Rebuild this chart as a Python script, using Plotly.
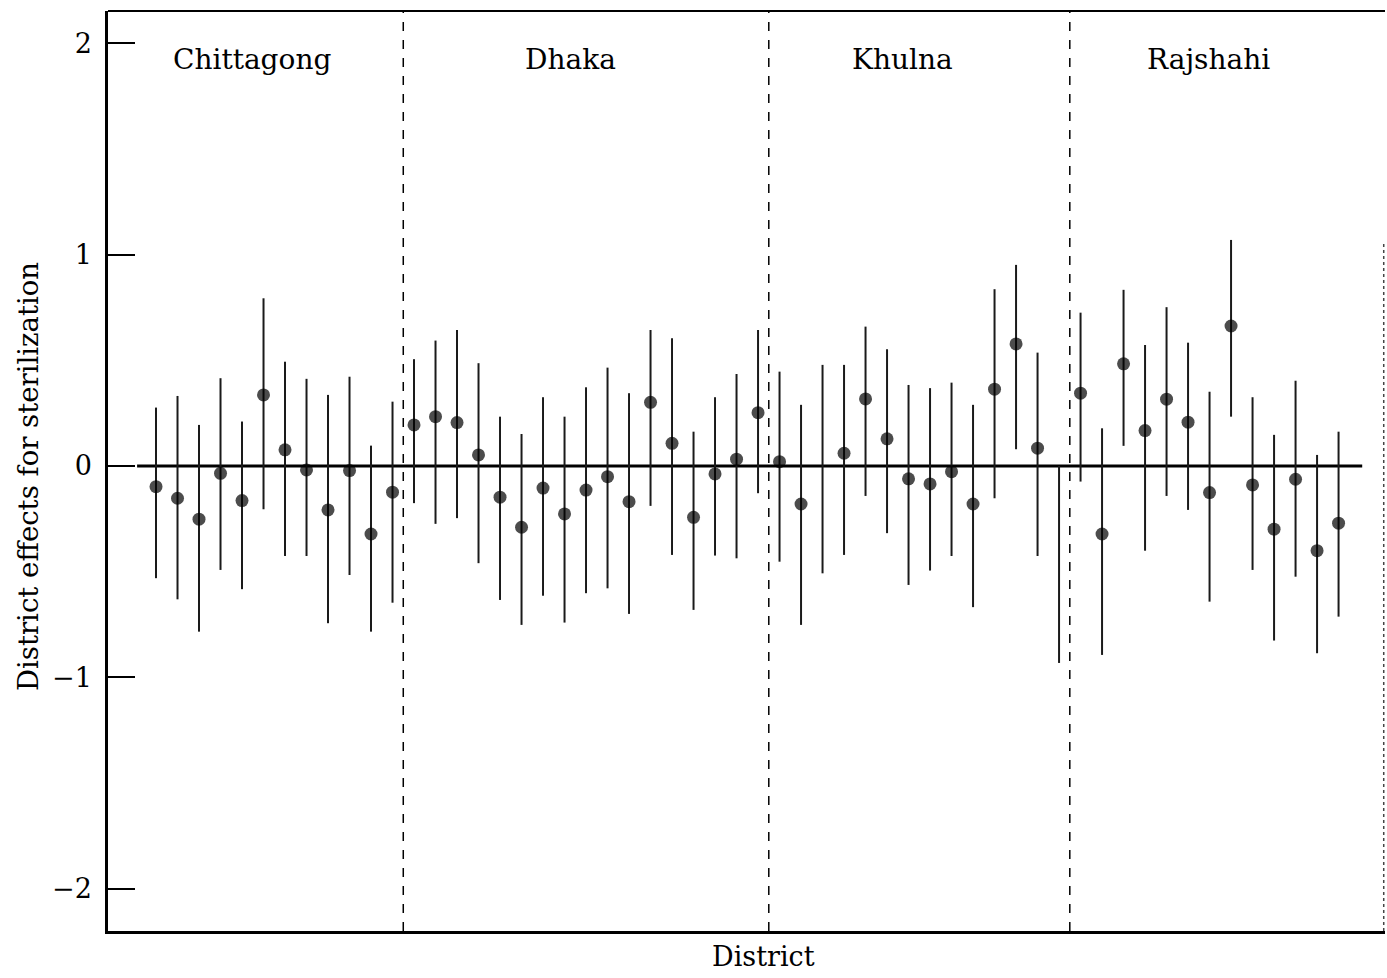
import plotly.graph_objects as go

# ---- data ----
regions = ["Chittagong", "Dhaka", "Khulna", "Rajshahi"]
region_sizes = [12, 17, 14, 13]

estimate = [
    # Chittagong
    -0.098, -0.153, -0.252, -0.035, -0.164, 0.336, 0.076, -0.019, -0.208, -0.022, -0.322, -0.124,
    # Dhaka
    0.194, 0.233, 0.205, 0.052, -0.148, -0.290, -0.105, -0.227, -0.114, -0.051, -0.169, 0.301,
    0.107, -0.243, -0.038, 0.032, 0.252,
    # Khulna
    0.020, -0.180, 0.000, 0.060, 0.317, 0.128, -0.061, -0.085, -0.027, -0.180, 0.363, 0.577,
    0.084, 0.000,
    # Rajshahi
    0.344, -0.322, 0.483, 0.167, 0.316, 0.207, -0.126, 0.662, -0.090, -0.299, -0.063, -0.401, -0.271,
]
upper = [
    0.276, 0.331, 0.194, 0.415, 0.210, 0.793, 0.493, 0.412, 0.336, 0.422, 0.096, 0.304,
    0.505, 0.593, 0.643, 0.486, 0.233, 0.151, 0.325, 0.233, 0.372, 0.465, 0.344, 0.643,
    0.604, 0.162, 0.325, 0.435, 0.643,
    0.446, 0.289, 0.478, 0.478, 0.659, 0.552, 0.383, 0.368, 0.394, 0.289, 0.836, 0.951,
    0.536, 0.000,
    0.725, 0.178, 0.833, 0.572, 0.751, 0.583, 0.351, 1.069, 0.325, 0.147, 0.403, 0.052, 0.162,
]
lower = [
    -0.531, -0.631, -0.784, -0.492, -0.583, -0.205, -0.426, -0.426, -0.744, -0.516, -0.784, -0.647,
    -0.176, -0.274, -0.247, -0.460, -0.634, -0.752, -0.614, -0.741, -0.602, -0.579, -0.700, -0.189,
    -0.421, -0.681, -0.424, -0.437, -0.129,
    -0.453, -0.752, -0.508, -0.421, -0.142, -0.318, -0.563, -0.495, -0.426, -0.668, -0.153, 0.079,
    -0.426, -0.932,
    -0.074, -0.894, 0.095, -0.401, -0.142, -0.208, -0.642, 0.233, -0.492, -0.826, -0.524, -0.886, -0.713,
]
# districts whose point estimate is not visible in the reference
dot_drawn = [True] * len(estimate)
dot_drawn[31] = False
dot_drawn[42] = False

y_ticks = [2, 1, 0, -1, -2]
y_ticktext = ["2", "1", "0", "\u22121", "\u22122"]

# ---- derived ----
x = list(range(1, len(estimate) + 1))
err_plus = [u - e for u, e in zip(upper, estimate)]
err_minus = [e - l for e, l in zip(estimate, lower)]
sizes = [13 if d else 0 for d in dot_drawn]

FONT = "DejaVu Serif"

fig = go.Figure()
fig.add_trace(go.Scatter(
    x=x, y=estimate, mode="markers",
    marker=dict(color="black", size=sizes, line=dict(width=0)),
    error_y=dict(type="data", symmetric=False, array=err_plus, arrayminus=err_minus,
                 color="#1a1a1a", thickness=2, width=0),
    showlegend=False, hoverinfo="skip",
))

x_min, x_max = -1.233, 58.16
shapes = []
# zero reference line
shapes.append(dict(type="line", xref="x", yref="y", x0=0.12, x1=57.1, y0=0, y1=0,
                   line=dict(color="black", width=3), layer="below"))
# region dividers
b = 0
for s in region_sizes[:-1]:
    b += s
    shapes.append(dict(type="line", xref="x", yref="paper", x0=b + 0.5, x1=b + 0.5, y0=0, y1=1,
                       line=dict(color="black", width=1.5, dash="dash"), layer="below"))
# frame: top solid, right dotted
shapes.append(dict(type="line", xref="paper", yref="paper", x0=0, x1=1, y0=1, y1=1,
                   line=dict(color="black", width=2)))
shapes.append(dict(type="line", xref="paper", yref="paper", x0=0.999, x1=0.999, y0=0, y1=0.75,
                   line=dict(color="#444444", width=1.5, dash="dot")))

label_x = [5.47, 20.26, 35.7, 49.93]
annotations = []
for name, lx in zip(regions, label_x):
    annotations.append(dict(text=name, x=lx, xref="x", y=0.947, yref="paper",
                            showarrow=False, font=dict(family=FONT, size=28, color="black"),
                            xanchor="center", yanchor="middle"))
annotations.append(dict(text="District effects for sterilization", x=-0.0626, xref="paper",
                        y=0.4935, yref="paper", textangle=-90, showarrow=False,
                        font=dict(family=FONT, size=27.5, color="black"),
                        xanchor="center", yanchor="middle"))
annotations.append(dict(text="District", x=0.513, xref="paper", y=-0.028, yref="paper",
                        showarrow=False, font=dict(family=FONT, size=27, color="black"),
                        xanchor="center", yanchor="middle"))

fig.update_layout(
    width=1387, height=978,
    margin=dict(l=108, r=2, t=11, b=47),
    paper_bgcolor="white", plot_bgcolor="white",
    shapes=shapes, annotations=annotations,
    xaxis=dict(range=[x_min, x_max], showticklabels=False, ticks="", showgrid=False,
               zeroline=False, showline=True, linecolor="black", linewidth=2.5),
    yaxis=dict(range=[-2.2, 2.152], tickvals=y_ticks, ticktext=y_ticktext,
               ticks="inside", ticklen=27, tickwidth=2, tickcolor="black",
               showgrid=False, zeroline=False, showline=True, linecolor="black", linewidth=2.5,
               tickfont=dict(family=FONT, size=27, color="black"), ticklabelstandoff=8),
)

fig.write_html("out.html", config={"displayModeBar": False},
               post_script="document.body.style.margin='0';document.body.style.overflow='hidden';")
